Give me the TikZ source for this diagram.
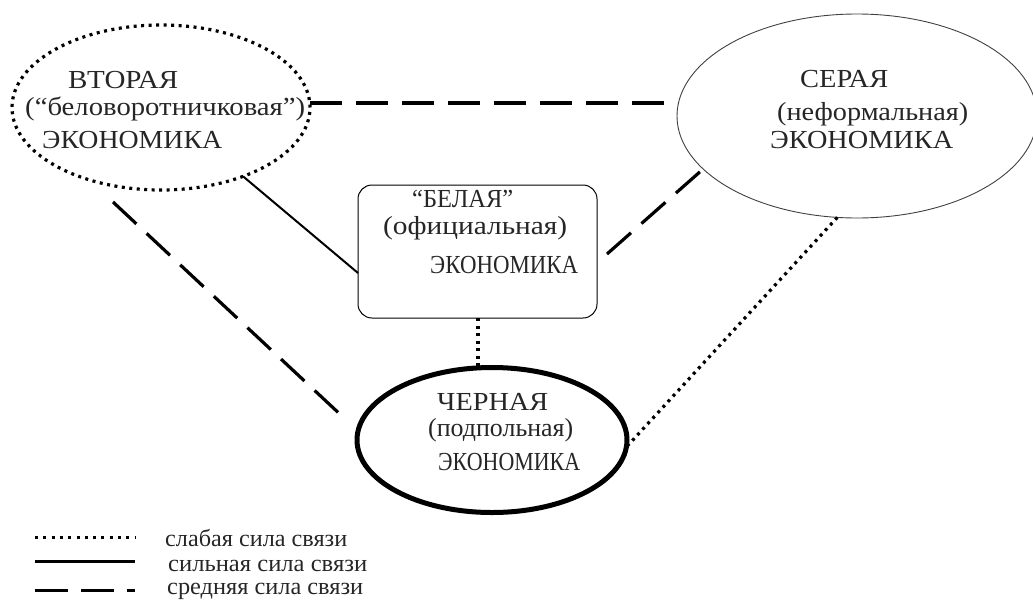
\documentclass[tikz,border=0pt]{standalone}
\usepackage{fontspec}
\setmainfont{Liberation Serif}
\usetikzlibrary{shapes.geometric}
\newcommand\fitw[2]{\resizebox{#1pt}{\height}{#2}}
\begin{document}
\begin{tikzpicture}[x=1pt,y=-1pt,
  txt/.style={inner sep=0pt, anchor=base west, text=black!85, font=\fontsize{26}{30}\selectfont},
  lgtxt/.style={inner sep=0pt, anchor=base west, text=black!85, font=\fontsize{24}{28}\selectfont},
  dotline/.style={line width=3.2pt, dash pattern=on 3pt off 4.5pt},
  dashline/.style={line width=3.2pt, dash pattern=on 32pt off 14pt},
  solidline/.style={line width=2pt},
  ell/.style={ellipse, inner sep=0pt, outer sep=0pt}]
\useasboundingbox (0,0) rectangle (1033,600);

% shapes
\node[ell, draw, dotline, minimum width=298pt, minimum height=165pt] (L) at (161,107.5) {};
\node[ell, draw=black!75, line width=0.9pt, minimum width=360pt, minimum height=204pt] (R) at (857,116) {};
\node[draw, rectangle, rounded corners=14pt, line width=1pt, inner sep=0pt, outer sep=0pt,
      minimum width=239pt, minimum height=133pt] (B) at (477.5,251.5) {};
\node[ell, draw, line width=5pt, minimum width=270pt, minimum height=145pt] (K) at (492,440) {};

% texts
\node[txt] (l1) at (68,88) {\fitw{110}{ВТОРАЯ}};
\node[txt] (l2) at (25,115) {\fitw{280}{(“беловоротничковая”)}};
\node[txt] (l3) at (42,148) {\fitw{180}{ЭКОНОМИКА}};
\node[txt] (r1) at (800,87) {\fitw{88}{СЕРАЯ}};
\node[txt] (r2) at (777,120) {\fitw{191}{(неформальная)}};
\node[txt] (r3) at (770,148) {\fitw{183}{ЭКОНОМИКА}};
\node[txt] (b1) at (412,207) {\fitw{101}{“БЕЛАЯ”}};
\node[txt] (b2) at (383,234) {\fitw{184}{(официальная)}};
\node[txt] (b3) at (430,273) {\fitw{148}{ЭКОНОМИКА}};
\node[txt] (k1) at (437,410) {\fitw{111}{ЧЕРНАЯ}};
\node[txt] (k2) at (428,436) {\fitw{145}{(подпольная)}};
\node[txt] (k3) at (438,470) {\fitw{142}{ЭКОНОМИКА}};

% connectors
\draw[dashline] ([yshift=4.5pt]L.east) -- ([yshift=13pt]R.west);
\draw[solidline] (L.-40.7) -- ([yshift=-21.5pt]B.west);
\coordinate (bs) at ([xshift=10pt,yshift=-2.5pt]B.east);
\draw[dashline] (bs) -- (R.199);
\draw[dotline, line width=4pt] (B.south) -- (B.south |- K.north);
\coordinate (d1) at (113,202);
\coordinate (d2) at (343,417);
\draw[dashline] (d1) -- (d2);
\draw[dotline] (R.-101) -- (K.-3);

% legend
\coordinate (a1) at (35,537); \coordinate (a2) at (135,537);
\coordinate (s1) at (35,561); \coordinate (s2) at (135,561);
\coordinate (m1) at (35,590); \coordinate (m2) at (135,590);
\draw[line width=3pt, dash pattern=on 3pt off 5.3pt] (a1) -- (a2);
\draw[line width=3pt] (s1) -- (s2);
\draw[line width=3pt, dash pattern=on 33pt off 13pt] (m1) -- (m2);
\node[lgtxt] (g1) at (165,546) {\fitw{182}{слабая сила связи}};
\node[lgtxt] (g2) at (168,571) {\fitw{199}{сильная сила связи}};
\node[lgtxt] (g3) at (167,594) {\fitw{196}{средняя сила связи}};
\end{tikzpicture}
\end{document}
